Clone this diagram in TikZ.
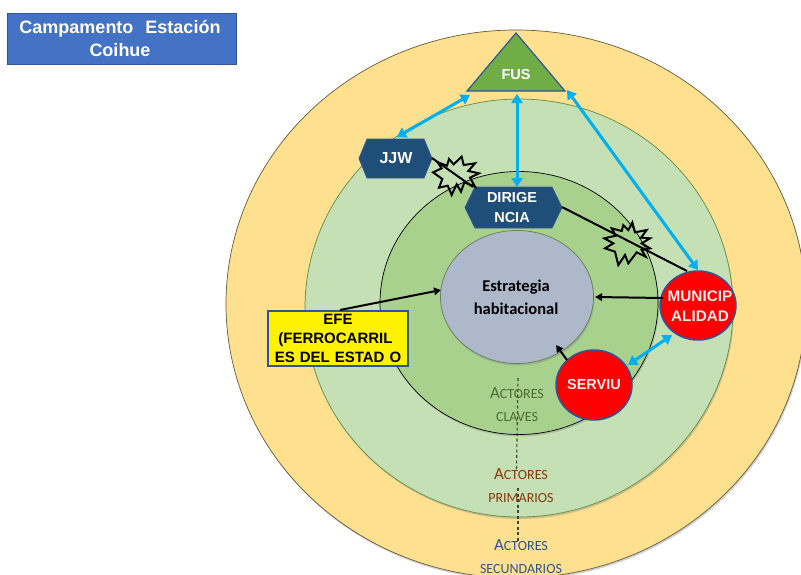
\documentclass[tikz,border=0pt]{standalone}
\usepackage{fontspec}
\setmainfont{Liberation Sans}
\newfontfamily\calib{Carlito}
\usetikzlibrary{shapes.geometric,shadows,arrows.meta}
\definecolor{ringY}{HTML}{FFE08F}
\definecolor{ringM}{HTML}{C5E0B4}
\definecolor{ringI}{HTML}{A9D18E}
\definecolor{core}{HTML}{ADB9CA}
\definecolor{navy}{HTML}{1F4E79}
\definecolor{edgeb}{HTML}{2F5597}
\definecolor{sky}{HTML}{00B0F0}
\definecolor{titleb}{HTML}{4472C4}
\definecolor{fusg}{HTML}{70AD47}
\definecolor{tagg}{HTML}{4F6B35}
\definecolor{tagb}{HTML}{843C0C}
\definecolor{tagn}{HTML}{2F5587}
\definecolor{ringMe}{HTML}{5E8C4A}
\tikzset{
  x=1pt,y=-1pt,
  ring/.style={ellipse,inner sep=0pt,draw=#1,line width=.7pt,drop shadow={shadow xshift=1pt,shadow yshift=-2pt,opacity=.35}},
  hexa/.style={draw=edgeb,line width=.8pt,fill=navy},
  wlabel/.style={text=white,font=\bfseries\fontsize{14.5}{20}\selectfont,align=center},
  redc/.style={ellipse,inner sep=0pt,draw=edgeb,line width=1.5pt,fill=red},
  redt/.style={text=white!92!black,font=\bfseries\fontsize{15.3}{20}\selectfont,align=center,inner sep=0pt},
  duo/.style={draw=sky,line width=3pt,{Triangle[length=9pt,width=11pt]}-{Triangle[length=9pt,width=11pt]}},
  blk/.style={draw=black,line width=2pt,-{Triangle[length=7pt,width=7.5pt]}},
  blkn/.style={draw=black,line width=2pt},
  burst/.style={draw=black,line width=2pt,line join=miter},
  dots/.style={draw=black!75,line width=1.1pt,dash pattern=on 3pt off 2.5pt},
  tag/.style={font=\calib\fontsize{14}{23}\selectfont,align=center,inner sep=0pt},
}
\newcommand{\scap}[2]{{\fontsize{17}{23}\selectfont #1}{\fontsize{14}{23}\selectfont #2}}
\begin{document}
\begin{tikzpicture}
\useasboundingbox (0,0) rectangle (801,574);
\clip (0,0) rectangle (801,574);
\node[ring=black!60!ringY,fill=ringY,minimum width=580pt,minimum height=548pt] (outer) at (516,304) {};
\node[ring=ringMe,fill=ringM,minimum width=428pt,minimum height=418pt] (middle) at (519,308) {};
\node[ring=black,fill=ringI,minimum width=278pt,minimum height=263pt] (inner) at (519,303) {};
\node[ring=black!40!ringI,fill=core,minimum width=153pt,minimum height=133pt] (centre) at (517,297) {};
\node[font=\calib\bfseries\fontsize{16.5}{23}\selectfont,align=center,inner sep=0pt] (centret) at (516,297.5) {Estrategia\\habitacional};

\node[draw=edgeb,line width=.8pt,fill=titleb,inner sep=0pt,text=white,font=\bfseries\fontsize{18}{23}\selectfont,align=center,minimum height=51pt,text width=229pt] (title) at (121.5,38.5) {\hspace{-3pt}Campamento\ \ Estación\\\hspace{-3pt}Coihue};

\coordinate (d1) at (518,378);
\coordinate (d2) at (516.5,470);
\coordinate (d3) at (518,488);
\coordinate (d4) at (518,542);
\draw[dots] (d1) -- (d2);
\draw[dots] (d3) -- (d4);
\node[tag,text=tagg] (tagA) at (517,404.5) {\scap{A}{CTORES}\\\scap{}{CLAVES}};
\node[tag,text=tagb] (tagB) at (521,486) {\scap{A}{CTORES}\\\scap{}{PRIMARIOS}};
\node[tag,text=tagn] (tagC) at (521,557) {\scap{A}{CTORES}\\\scap{}{SECUNDARIOS}};

\path[draw=edgeb,line width=1.2pt,fill=fusg] (516,33) -- (565,91) -- (467,91) -- cycle;
\node[wlabel,font=\bfseries\fontsize{14.5}{16}\selectfont] (fus) at (516,75) {FUS};
\coordinate (fusL) at (470,95);
\coordinate (fusB) at (517,94);
\coordinate (fusR) at (567,90);

\path[hexa] (359,158.5) -- (367,139) -- (424,139) -- (432,158.5) -- (424,178) -- (367,178) -- cycle;
\node[wlabel,font=\bfseries\fontsize{16}{20}\selectfont] (jjw) at (396,158) {JJW};
\coordinate (jjwE) at (432,158);
\coordinate (jjwN) at (397,137);
\path[hexa] (465,207.5) -- (475,187) -- (552,187) -- (562,207.5) -- (552,228) -- (475,228) -- cycle;
\node[wlabel] (dir) at (512,208) {DIRIGE\\NCIA};
\coordinate (dirE) at (562,207);
\coordinate (dirN) at (517,187);
\coordinate (dirW) at (473,187);

\node[redc,minimum width=76pt,minimum height=69pt] (muni) at (698,305.5) {};
\node[redt] (munit) at (700,306) {MUNICIP\\ALIDAD};
\node[redc,minimum width=76pt,minimum height=70pt] (serv) at (594,385) {};
\node[redt,font=\bfseries\fontsize{14.5}{20}\selectfont] (servt) at (594,385) {SERVIU};
\node[draw=edgeb,line width=1.4pt,fill=yellow,inner sep=0pt,minimum height=55pt,text width=140pt,align=center,font=\bfseries\fontsize{15}{19}\selectfont] (efe) at (338,338.5) {EFE\\\hspace{-5pt}(FERROCARRIL\\ES DEL ESTAD O};
\coordinate (efeN) at (340,310);
\coordinate (muniT) at (687,271);
\coordinate (muniN) at (698,270);
\coordinate (muniS) at (672,335);
\coordinate (muniW) at (663,298);
\coordinate (servN) at (628,365);
\coordinate (servW) at (567,360);
\coordinate (centreE) at (595,297);
\coordinate (centreS) at (556,345);
\coordinate (centreW) at (441,290);

\draw[duo] (fusL) -- (jjwN);
\draw[duo] (fusB) -- (dirN);
\draw[duo] (fusR) -- (muniN);
\draw[duo] (muniS) -- (servN);
\draw[blkn] (jjwE) -- (dirW);
\draw[blkn] (dirE) -- (muniT);
\draw[blk] (muniW) -- (centreE);
\draw[blk] (servW) -- (centreS);
\draw[blk] (efeN) -- (centreW);

\begin{scope}[shift={(425,145)},scale=1/3]
\draw[burst] (24,82)--(50,70)--(38,52)--(66,62)--(72,42)--(86,58)--(110,35)--(116,60)--(150,55)--(130,78)--(162,85)--(135,98)--(150,125)--(118,112)--(108,140)--(95,118)--(80,150)--(68,122)--(42,128)--(52,102)--cycle;
\end{scope}
\begin{scope}[shift={(595,215)},scale=1/3]
\draw[burst] (28,70)--(62,62)--(50,40)--(80,48)--(85,30)--(100,45)--(112,22)--(120,52)--(155,45)--(138,68)--(165,70)--(140,85)--(165,100)--(140,105)--(152,125)--(125,112)--(100,145)--(90,120)--(70,150)--(60,110)--(30,100)--(55,85)--cycle;
\end{scope}
\end{tikzpicture}
\end{document}
